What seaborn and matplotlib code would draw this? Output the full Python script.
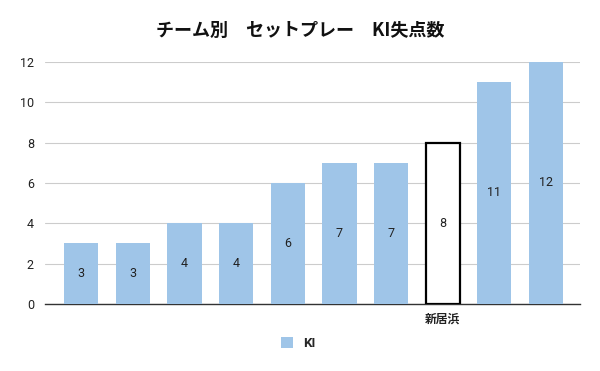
import matplotlib
matplotlib.use("Agg")
import matplotlib.pyplot as plt
import seaborn as sns
import pandas as pd
from matplotlib.patches import Patch

teams = ["T1", "T2", "T3", "T4", "T5", "T6", "T7", "新居浜", "T9", "T10"]
tick_labels = ["", "", "", "", "", "", "", "新居浜", "", ""]
values = [3, 3, 4, 4, 6, 7, 7, 8, 11, 12]
highlight = "新居浜"
series_name = "KI"
title = "チーム別　セットプレー　KI失点数"

sns.set_theme(style="white")
plt.rcParams['font.family'] = ['Roboto', 'Noto Sans CJK JP', 'DejaVu Sans']

df = pd.DataFrame({"team": teams, "value": values})

fig = plt.figure(figsize=(6.0, 3.71), dpi=100)
ax = fig.add_axes([0.075, 0.181, 0.892, 0.652])

blue = "#9fc5e8"
sns.barplot(data=df, x="team", y="value", color=blue, width=0.66, ax=ax,
            saturation=1, zorder=3)

for patch, t in zip(ax.patches, teams):
    if t == highlight:
        patch.set_facecolor("white")
        patch.set_edgecolor("black")
        patch.set_linewidth(1.6)
    else:
        patch.set_edgecolor("none")

for i, v in enumerate(values):
    ax.text(i, v / 2, str(v), ha="center", va="center", fontsize=9,
            color="#222222", zorder=4)

ax.set_xlim(-0.7, 9.66)
ax.set_ylim(0, 12)
ax.set_yticks(range(0, 13, 2))
ax.yaxis.grid(True, color="#cccccc", linewidth=0.8, zorder=0)
ax.set_axisbelow(True)
ax.tick_params(axis="y", labelsize=9, colors="#222222", length=0, pad=8)
ax.set_xticks(range(len(teams)))
ax.set_xticklabels(tick_labels, fontsize=8.5, fontweight="bold",
                   family=['Noto Sans CJK JP', 'DejaVu Sans'], color="#222222")
ax.tick_params(axis="x", length=0, pad=6)
ax.set_xlabel("")
ax.set_ylabel("")
for s in ["top", "right", "left"]:
    ax.spines[s].set_visible(False)
ax.spines["bottom"].set_color("#333333")
ax.spines["bottom"].set_linewidth(1.0)

fig.text(0.5, 0.918, title, ha="center", va="center", fontsize=13,
         fontweight="bold", family=['Noto Sans CJK JP', 'DejaVu Sans'],
         color="#111111")

handles = [Patch(facecolor=blue, edgecolor="none", label=series_name)]
fig.legend(handles=handles, loc="center", bbox_to_anchor=(0.497, 0.073),
           frameon=False, handlelength=0.9, handleheight=0.9,
           prop={"weight": "bold", "size": 9.5}, handletextpad=0.8)

fig.savefig("out.png", dpi=100)
